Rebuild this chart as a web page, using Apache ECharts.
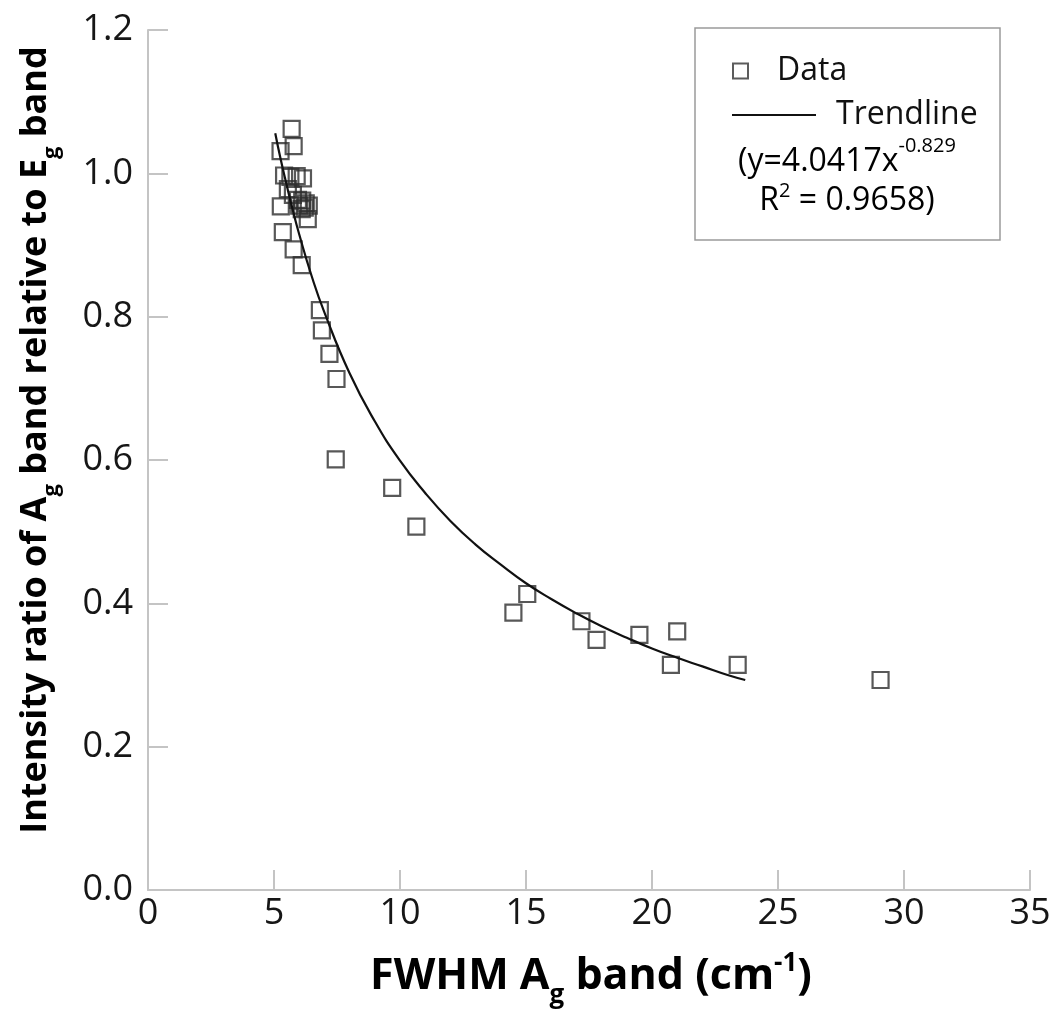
<!DOCTYPE html>
<html><head><meta charset="utf-8">
<script src="https://cdn.jsdelivr.net/npm/echarts@6/dist/echarts.min.js"></script>
<style>html,body{margin:0;padding:0;background:#fff}#c{width:1060px;height:1020px}</style>
</head><body><div id="c"></div>
<script>
// Measured data (FWHM of A_g band, intensity ratio)
const fwhm = [5.70, 5.78, 5.26, 5.40, 5.65, 5.90, 6.15, 5.55, 5.75, 5.95, 6.12, 6.26, 6.00, 6.22, 6.10, 6.38, 5.27, 6.34, 5.35, 5.78, 6.10, 6.82, 6.90, 7.20, 7.48, 7.45, 9.69, 10.65, 14.50, 15.05, 17.20, 17.80, 19.50, 21.00, 20.75, 23.40, 29.07];
const ratio = [1.062, 1.038, 1.031, 0.997, 0.995, 0.996, 0.993, 0.978, 0.970, 0.963, 0.962, 0.958, 0.955, 0.952, 0.950, 0.955, 0.954, 0.936, 0.918, 0.894, 0.872, 0.809, 0.781, 0.748, 0.713, 0.601, 0.561, 0.507, 0.387, 0.413, 0.375, 0.349, 0.356, 0.361, 0.314, 0.314, 0.293];
// Trendline points
const trendX = [5.05, 5.25, 5.5, 5.75, 6, 6.5, 7, 8, 9, 10, 11, 12, 13, 14, 15, 16, 17, 18, 19, 20, 21, 22, 23, 23.7];
const trendY = [1.056, 1.022, 0.984, 0.948, 0.915, 0.856, 0.806, 0.721, 0.654, 0.599, 0.554, 0.515, 0.482, 0.454, 0.428, 0.406, 0.386, 0.368, 0.352, 0.337, 0.324, 0.312, 0.300, 0.293];
const legendNames = ['Data', 'Trendline'];
const eqLine1 = ['(y=4.0417x', '-0.829'];
const eqLine2 = ['R', '2', ' = 0.9658)'];

const FF = 'Open Sans';
const chart = echarts.init(document.getElementById('c'), null, {renderer: 'canvas'});
const scatterData = fwhm.map((x, i) => [x, ratio[i]]);
const trendData = trendX.map((x, i) => [x, trendY[i]]);
const axisCol = '#c4c4c4';

chart.setOption({
  animation: false,
  backgroundColor: '#fff',
  grid: {left: 148, right: 30, top: 30, bottom: 130, containLabel: false},
  xAxis: {
    type: 'value', min: 0, max: 35, interval: 5,
    axisLine: {show: true, lineStyle: {color: axisCol, width: 2}},
    axisTick: {show: true, inside: true, length: 20, lineStyle: {color: axisCol, width: 2}},
    splitLine: {show: false},
    axisLabel: {fontFamily: FF, fontSize: 36, color: '#161616', margin: 6}
  },
  yAxis: {
    type: 'value', min: 0, max: 1.2, interval: 0.2,
    axisLine: {show: true, lineStyle: {color: axisCol, width: 2}},
    axisTick: {show: true, inside: true, length: 20, lineStyle: {color: axisCol, width: 2}},
    splitLine: {show: false},
    axisLabel: {fontFamily: FF, fontSize: 36, color: '#161616', margin: 15,
      formatter: v => v.toFixed(1)}
  },
  legend: [
    {data: [{name: legendNames[0], itemStyle: {color: 'rgba(0,0,0,0)', borderColor: '#333', borderWidth: 2}}],
     left: 727, top: 50, itemWidth: 15, itemHeight: 15, selectedMode: false, icon: 'rect',
     textStyle: {fontFamily: FF, fontSize: 32, color: '#111', padding: [0, 0, 0, 24]}, z: 10},
    {data: [{name: legendNames[1], icon: 'rect', itemStyle: {color: '#111', borderWidth: 0}}],
     left: 727, top: 94, itemWidth: 84, itemHeight: 2, selectedMode: false,
     textStyle: {fontFamily: FF, fontSize: 32, color: '#111', padding: [0, 0, 0, 15]}, z: 10}
  ],
  graphic: [
    {type: 'rect', z: 5, shape: {x: 695, y: 28, width: 305, height: 212},
     style: {fill: '#fff', stroke: '#9a9a9a', lineWidth: 1.5}},
    {type: 'text', z: 11, x: 847, y: 157,
     style: {text: '{a|' + eqLine1[0] + '}{s|' + eqLine1[1] + '}', align: 'center', verticalAlign: 'middle',
       rich: {a: {fontFamily: FF, fontSize: 32, color: '#111', verticalAlign: 'bottom'},
              s: {fontFamily: FF, fontSize: 20, color: '#111', verticalAlign: 'bottom', padding: [0, 0, 22, 0]}}}},
    {type: 'text', z: 11, x: 847, y: 199,
     style: {text: '{a|' + eqLine2[0] + '}{s|' + eqLine2[1] + '}{a|' + eqLine2[2] + '}', align: 'center', verticalAlign: 'middle',
       rich: {a: {fontFamily: FF, fontSize: 32, color: '#111', verticalAlign: 'bottom'},
              s: {fontFamily: FF, fontSize: 20, color: '#111', verticalAlign: 'bottom', padding: [0, 0, 16, 0]}}}},
    {type: 'text', z: 11, x: 40, y: 440, rotation: Math.PI / 2,
     style: {text: '{b|Intensity ratio of A}{u|g}{b| band relative to E}{u|g}{b| band}', align: 'center', verticalAlign: 'middle',
       rich: {b: {fontFamily: FF, fontSize: 36, fontWeight: 'bold', color: '#111', verticalAlign: 'bottom', padding: [0, 0, 9, 0]},
              u: {fontFamily: FF, fontSize: 22, fontWeight: 'bold', color: '#111', verticalAlign: 'bottom'}}}},
    {type: 'text', z: 11, x: 591, y: 980,
     style: {text: '{b|FWHM A}{u|g}{b| band (cm}{p|-1}{b|)}', align: 'center', verticalAlign: 'middle',
       rich: {b: {fontFamily: FF, fontSize: 43, fontWeight: 'bold', color: '#111', verticalAlign: 'bottom', padding: [0, 0, 11, 0]},
              u: {fontFamily: FF, fontSize: 26, fontWeight: 'bold', color: '#111', verticalAlign: 'bottom'},
              p: {fontFamily: FF, fontSize: 26, fontWeight: 'bold', color: '#111', verticalAlign: 'bottom', padding: [0, 0, 32, 0]}}}}
  ],
  series: [
    {name: legendNames[0], type: 'scatter', data: scatterData, symbol: 'rect', symbolSize: 16, z: 2,
     itemStyle: {color: 'rgba(0,0,0,0)', borderColor: '#2e2e2e', borderWidth: 2.2}},
    {name: legendNames[1], type: 'line', data: trendData, smooth: true, symbol: 'none', showSymbol: false, z: 3,
     lineStyle: {color: '#111', width: 2.2}, itemStyle: {color: '#111'}}
  ]
});
</script></body></html>
